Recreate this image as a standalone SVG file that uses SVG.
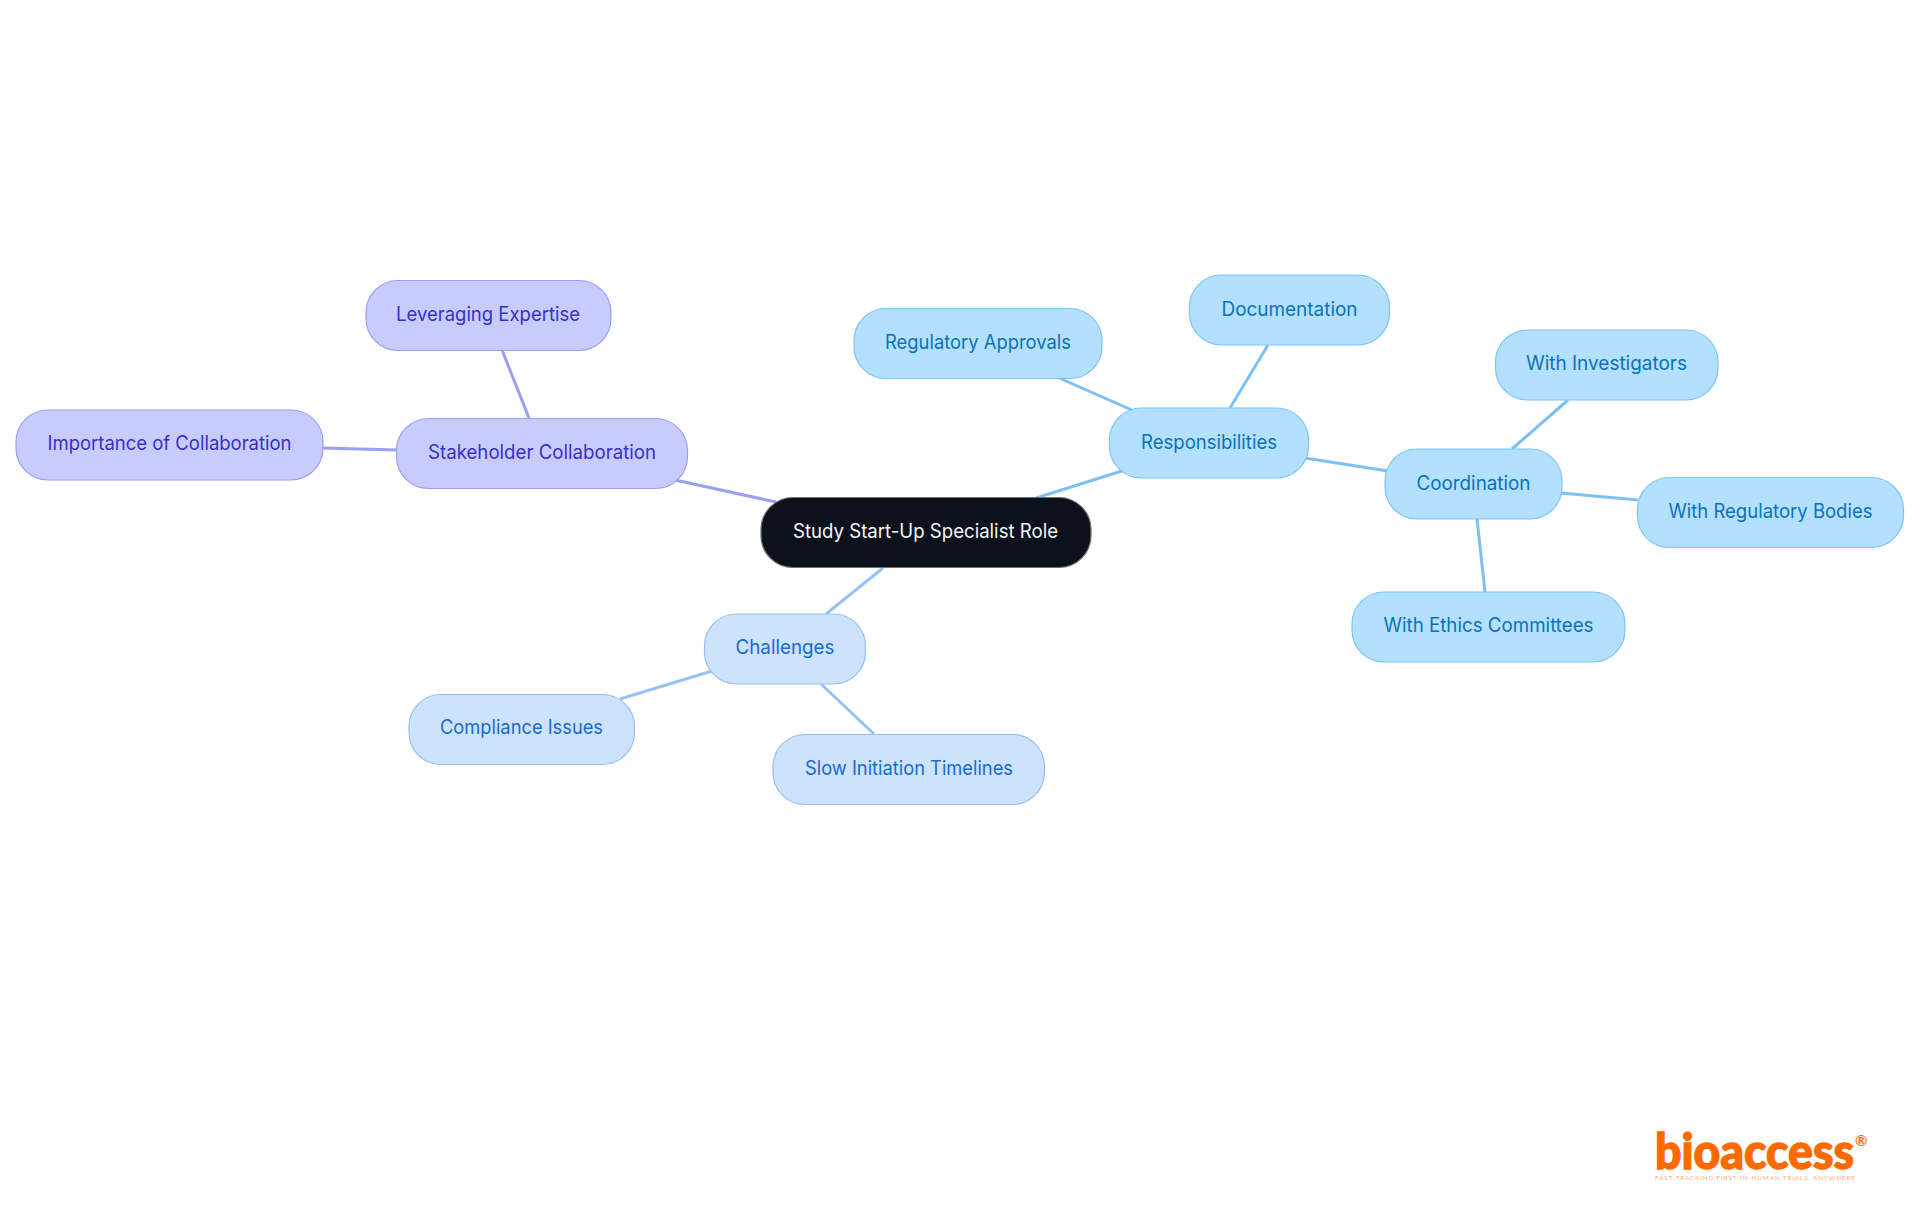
<svg xmlns="http://www.w3.org/2000/svg" width="1920" height="1215" viewBox="0 0 1920 1215">
<style>
.n{stroke-width:1.2}
.t{font-family:"Inter","Noto Sans","Liberation Sans",sans-serif;font-size:19.5px;font-weight:400;text-anchor:middle}
.sky rect{fill:#b3e0ff;stroke:#7dc4f5}.sky text{fill:#0b72b9}
.blue rect{fill:#cce2fd;stroke:#94c1f2}.blue text{fill:#1a6bc9}
.vio rect{fill:#c8cbfd;stroke:#9a9ff2}.vio text{fill:#3730c9}
.c{fill:none;stroke-width:3}
</style>
<rect width="1920" height="1215" fill="#fff"/>
<g id="connectors" class="c">
<path d="M1036 498L1125 470" stroke="#7cc1f3"/>
<path d="M1134 411L1057 377" stroke="#7cc1f3"/>
<path d="M1230 408L1268 345" stroke="#7cc1f3"/>
<path d="M1305 458L1388 471" stroke="#7cc1f3"/>
<path d="M1512 449L1568 400" stroke="#7cc1f3"/>
<path d="M1561 493L1638 500" stroke="#7cc1f3"/>
<path d="M1477 519L1485 592" stroke="#7cc1f3"/>
<path d="M883 568L826 614" stroke="#97c3f2"/>
<path d="M712 671L620 699" stroke="#97c3f2"/>
<path d="M821 684L874 734" stroke="#97c3f2"/>
<path d="M776 502L675 480" stroke="#9a9ff2"/>
<path d="M529 418L502 350" stroke="#9a9ff2"/>
<path d="M397 450L323 448" stroke="#9a9ff2"/>
</g>
<g id="root"><rect x="761" y="497.500" width="330" height="70" rx="32" fill="#0b121b" stroke="#6b7076" stroke-width="1.200"/><text class="t" x="925.500" y="538" fill="#f4f5f6" textLength="265" lengthAdjust="spacingAndGlyphs">Study Start-Up Specialist Role</text></g>
<g id="responsibilities" class="sky n"><rect x="1109.500" y="408" width="199" height="70" rx="32"/><text class="t" x="1209" y="449" textLength="136" lengthAdjust="spacingAndGlyphs">Responsibilities</text></g>
<g id="documentation" class="sky n"><rect x="1189.500" y="275" width="200" height="70" rx="32"/><text class="t" x="1289.500" y="316" textLength="136" lengthAdjust="spacingAndGlyphs">Documentation</text></g>
<g id="regulatory-approvals" class="sky n"><rect x="854" y="308.500" width="248" height="70" rx="32"/><text class="t" x="978" y="349" textLength="186" lengthAdjust="spacingAndGlyphs">Regulatory Approvals</text></g>
<g id="coordination" class="sky n"><rect x="1385" y="449" width="177" height="70" rx="32"/><text class="t" x="1473.500" y="490" textLength="114" lengthAdjust="spacingAndGlyphs">Coordination</text></g>
<g id="with-investigators" class="sky n"><rect x="1495.500" y="330" width="222.500" height="70" rx="32"/><text class="t" x="1606.500" y="370" textLength="161" lengthAdjust="spacingAndGlyphs">With Investigators</text></g>
<g id="with-regulatory-bodies" class="sky n"><rect x="1637.500" y="477.500" width="266" height="70" rx="32"/><text class="t" x="1770.500" y="518" textLength="204" lengthAdjust="spacingAndGlyphs">With Regulatory Bodies</text></g>
<g id="with-ethics-committees" class="sky n"><rect x="1352" y="592" width="273" height="70" rx="32"/><text class="t" x="1488.500" y="632" textLength="210" lengthAdjust="spacingAndGlyphs">With Ethics Committees</text></g>
<g id="challenges" class="blue n"><rect x="704.500" y="614" width="161" height="70" rx="32"/><text class="t" x="785" y="654" textLength="99" lengthAdjust="spacingAndGlyphs">Challenges</text></g>
<g id="compliance-issues" class="blue n"><rect x="409" y="694.500" width="225.500" height="70" rx="32"/><text class="t" x="521.500" y="734" textLength="163" lengthAdjust="spacingAndGlyphs">Compliance Issues</text></g>
<g id="slow-initiation-timelines" class="blue n"><rect x="773" y="734.500" width="271.500" height="70" rx="32"/><text class="t" x="909" y="775" textLength="208" lengthAdjust="spacingAndGlyphs">Slow Initiation Timelines</text></g>
<g id="stakeholder-collaboration" class="vio n"><rect x="396.500" y="418.500" width="291" height="70" rx="32"/><text class="t" x="542" y="459" textLength="228" lengthAdjust="spacingAndGlyphs">Stakeholder Collaboration</text></g>
<g id="leveraging-expertise" class="vio n"><rect x="366" y="280.500" width="245" height="70" rx="32"/><text class="t" x="488" y="321" textLength="184" lengthAdjust="spacingAndGlyphs">Leveraging Expertise</text></g>
<g id="importance-of-collaboration" class="vio n"><rect x="16" y="410" width="307" height="70" rx="32"/><text class="t" x="169.500" y="450" textLength="244" lengthAdjust="spacingAndGlyphs">Importance of Collaboration</text></g>
<g id="logo" fill="#ff6a00" font-family="Lato,'Liberation Sans',sans-serif">
<text x="1655" y="1169" font-size="49" font-weight="900" stroke="#ff6a00" stroke-width="1.400" textLength="199" lengthAdjust="spacingAndGlyphs">bioaccess</text>
<text x="1855" y="1146" font-size="15" font-weight="700">®</text>
<text x="1655" y="1180" font-size="6.500" opacity=".55" textLength="200" lengthAdjust="spacing">FAST-TRACKING FIRST-IN-HUMAN TRIALS, ANYWHERE</text>
</g>
</svg>
